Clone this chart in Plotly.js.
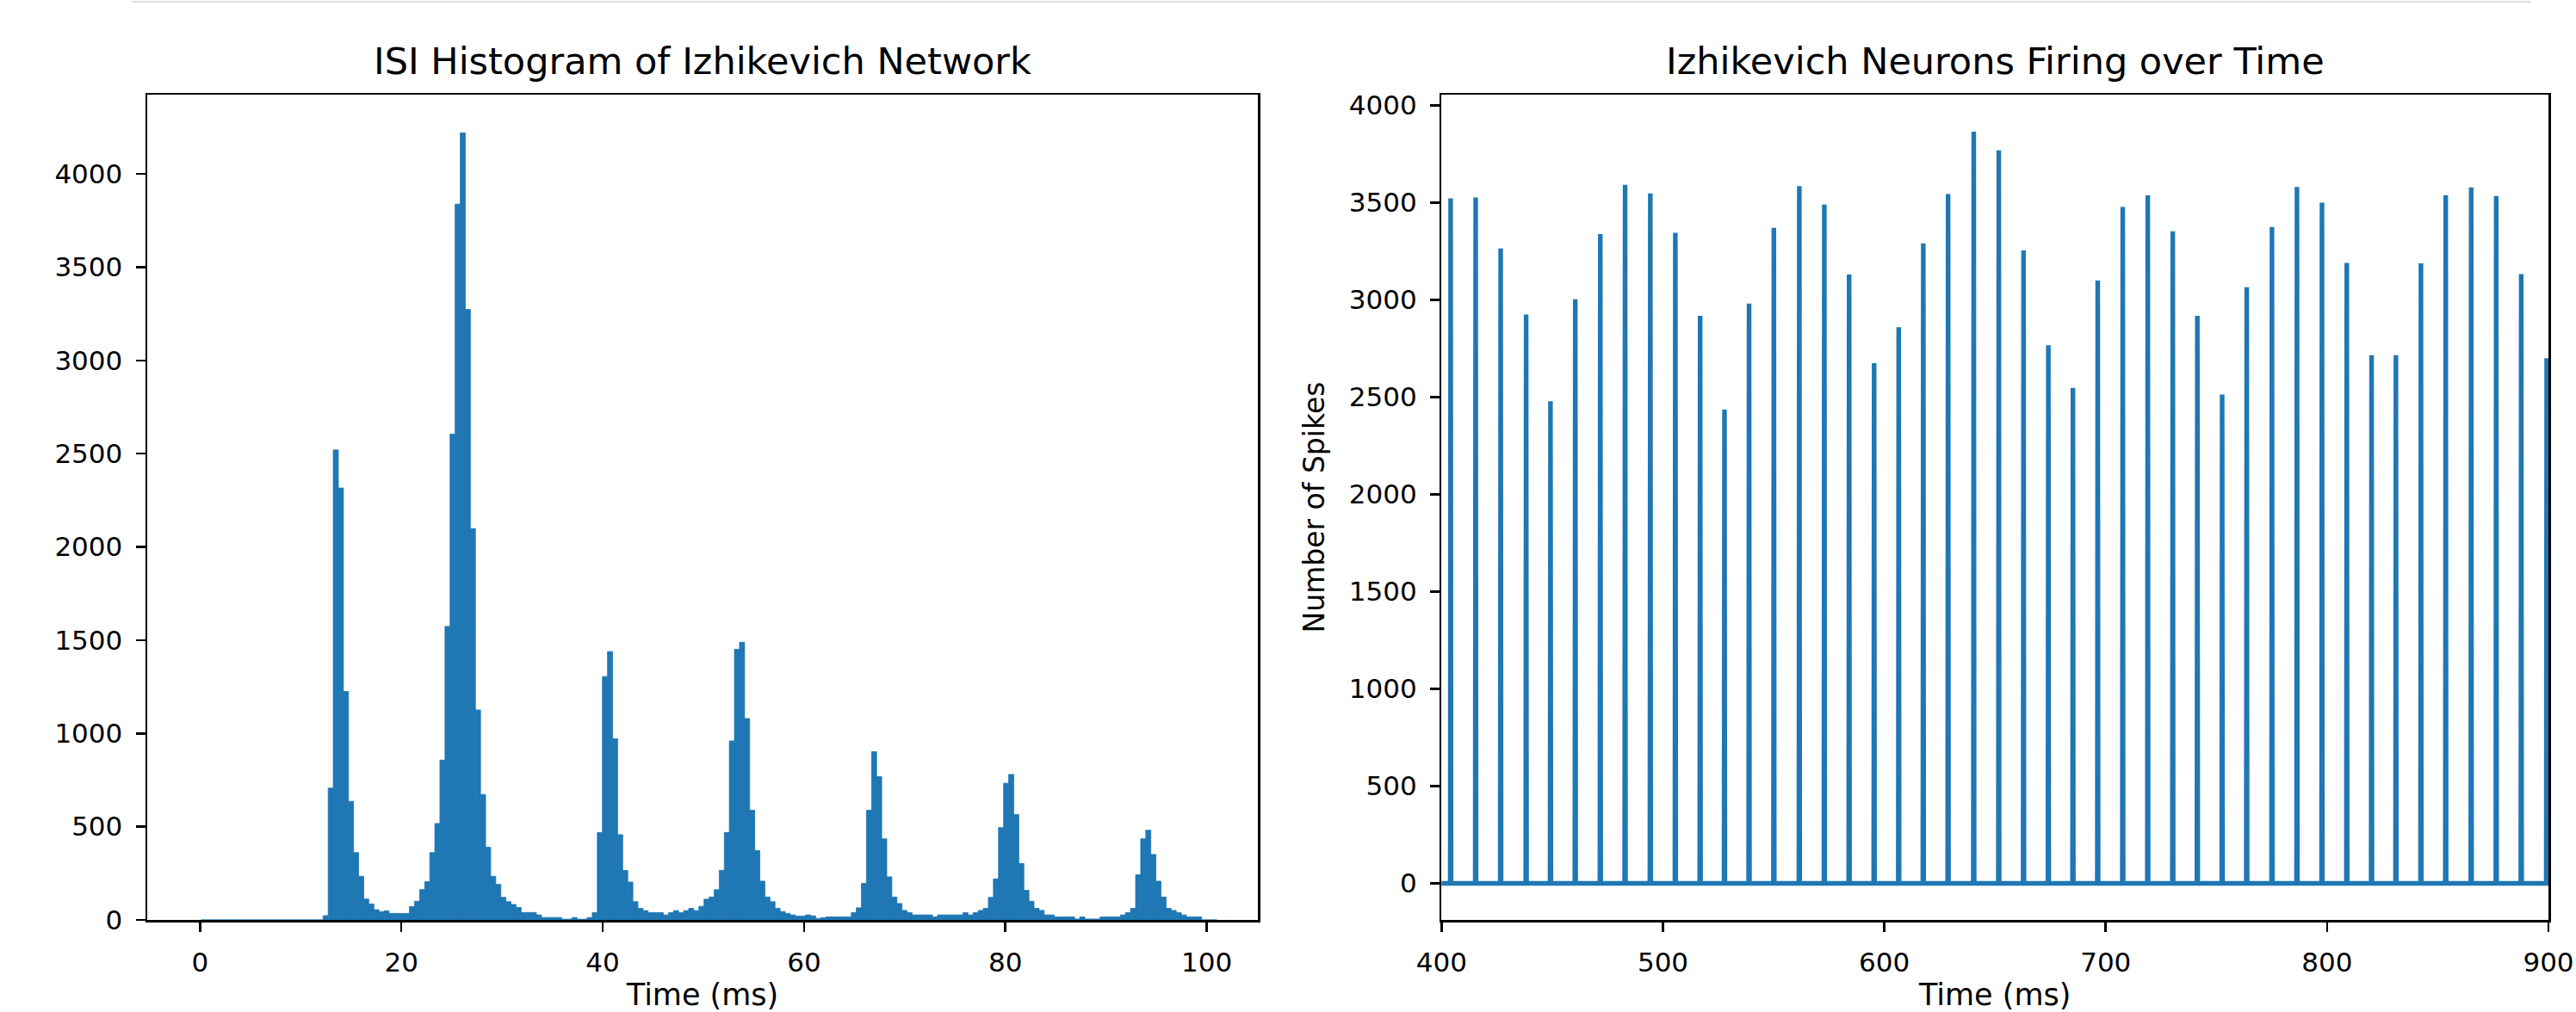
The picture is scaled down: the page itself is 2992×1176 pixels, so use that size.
<!DOCTYPE html>
<html>
<head>
<meta charset="utf-8">
<script src="https://cdn.plot.ly/plotly-3.0.1.min.js"></script>
<style>html,body{margin:0;padding:0;background:#fff;}#chart{width:2992px;height:1176px;}</style>
</head>
<body>
<div id="chart"></div>
<script>
// ---------- DATA ----------
// ISI histogram: 200 bins starting at binStart (ms), each binWidth wide
const binStart = 0.125;
const binWidth = 0.5044;
const isiCounts = [
  0,0,0,0,0,0,0,0,0,0, 0,0,0,0,0,0,0,0,0,0, 0,0,0,0,23,
  707,2520,2316,1225,636,361,234,112,86,55,
  44,49,35,35,35,35,72,100,163,205,
  361,517,857,1574,2605,3838,4220,3274,2098,1126,
  673,390,234,191,121,98,83,67,40,40,
  40,27,13,13,13,13,4,4,13,4,
  4,13,39,469,1305,1439,971,457,265,203,
  98,62,50,39,39,39,27,39,50,39,
  50,62,50,73,111,123,162,266,469,960,
  1451,1489,1080,588,372,208,123,98,62,45,
  35,27,20,20,27,22,8,12,16,16,
  16,16,16,39,65,196,588,902,768,435,
  231,123,88,51,39,27,27,27,27,16,
  27,27,27,27,27,39,27,39,51,62,
  121,220,495,733,780,565,303,159,100,62,
  51,27,27,16,16,16,16,5,16,5,
  5,5,16,16,16,16,27,39,62,242,
  435,481,351,208,123,62,51,39,27,16,
  16,16,0,0,0
];

// Population firing: spike times (ms) and number of spikes at each burst
const simStart = 0;
const simEnd = 1000;
const dt = 0.2;
const spikeTimes = [
  404.1,415.4,426.7,438.2,449.2,460.4,471.7,482.9,494.3,505.6,
  516.8,527.8,538.9,550.1,561.6,572.9,584.1,595.4,606.5,617.6,
  628.8,640.4,651.7,662.9,674.1,685.2,696.4,707.7,719.0,730.3,
  741.4,752.6,763.7,775.1,786.4,797.7,808.9,820.1,831.1,842.4,
  853.6,865.1,876.4,887.7,899.2
];
const spikeCounts = [
  3522,3526,3264,2925,2479,3003,3338,3591,3547,3345,
  2918,2436,2981,3370,3585,3490,3130,2675,2859,3291,
  3544,3865,3768,3254,2766,2547,3099,3478,3537,3353,
  2918,2513,3065,3375,3581,3500,3190,2715,2715,3188,
  3537,3578,3534,3132,2700
];

const xTicksLeft = [0,20,40,60,80,100];
const yTicks = [0,500,1000,1500,2000,2500,3000,3500,4000];
const xTicksRight = [400,500,600,700,800,900];

// ---------- BUILD ----------
const binCenters = isiCounts.map((_, i) => binStart + (i + 0.5) * binWidth);

const fx = [simStart], fy = [0];
spikeTimes.forEach((t, i) => {
  fx.push(t - dt, t, t + dt);
  fy.push(0, spikeCounts[i], 0);
});
fx.push(simEnd); fy.push(0);

const blue = '#1f77b4';
const FONT = 'DejaVu Sans, Liberation Sans, sans-serif';

const traces = [
  {
    type: 'bar', x: binCenters, y: isiCounts, width: binWidth,
    marker: {color: blue, line: {width: 0.8, color: blue}},
    xaxis: 'x', yaxis: 'y', hoverinfo: 'x+y', showlegend: false
  },
  {
    type: 'scatter', mode: 'lines', x: fx, y: fy,
    line: {color: blue, width: 5.4, simplify: false},
    xaxis: 'x2', yaxis: 'y2', showlegend: false
  }
];

const W = 2992, H = 1176;
const L = 170.7, R = 2960.5, T = 109.5, B = 1069.5;
const PW = R - L, PH = B - T;
const px = v => (v - L) / PW;
const py = v => (B - v) / PH;

const axCommon = {
  ticks: 'outside', ticklen: 11, tickwidth: 2.5, tickcolor: '#000',
  showline: true, linewidth: 2.5, linecolor: '#000', mirror: true,
  showgrid: false, zeroline: false,
  tickfont: {family: FONT, size: 31, color: '#000'},
  ticklabelstandoff: 9
};

const layout = {
  width: W, height: H,
  margin: {l: L, r: W - R, t: T, b: H - B, pad: 0},
  paper_bgcolor: '#fff', plot_bgcolor: '#fff',
  bargap: 0,
  font: {family: FONT, color: '#000'},
  xaxis: Object.assign({}, axCommon, {
    domain: [0, px(1461.2)], range: [-5.24, 105.09],
    tickmode: 'array', tickvals: xTicksLeft, ticktext: xTicksLeft.map(String),
    anchor: 'y',
    title: {text: 'Time (ms)', font: {family: FONT, size: 35, color: '#000'}, standoff: 22}
  }),
  yaxis: Object.assign({}, axCommon, {
    domain: [0, 1], range: [0, 4425],
    tickmode: 'array', tickvals: yTicks, ticktext: yTicks.map(String),
    anchor: 'x'
  }),
  xaxis2: Object.assign({}, axCommon, {
    domain: [px(1674.5), 1], range: [400, 900],
    tickmode: 'array', tickvals: xTicksRight, ticktext: xTicksRight.map(String),
    anchor: 'y2',
    title: {text: 'Time (ms)', font: {family: FONT, size: 35, color: '#000'}, standoff: 22}
  }),
  yaxis2: Object.assign({}, axCommon, {
    domain: [0, 1], range: [-188, 4055],
    tickmode: 'array', tickvals: yTicks, ticktext: yTicks.map(String),
    anchor: 'x2',
    title: {text: 'Number of Spikes', font: {family: FONT, size: 33, color: '#000'}, standoff: 18}
  }),
  annotations: [
    {text: 'ISI Histogram of Izhikevich Network', xref: 'paper', yref: 'paper',
     x: (0 + px(1461.2)) / 2, y: py(70), xanchor: 'center', yanchor: 'middle',
     showarrow: false, font: {family: FONT, size: 43, color: '#000'}},
    {text: 'Izhikevich Neurons Firing over Time', xref: 'paper', yref: 'paper',
     x: (px(1674.5) + 1) / 2, y: py(70), xanchor: 'center', yanchor: 'middle',
     showarrow: false, font: {family: FONT, size: 43, color: '#000'}}
  ],
  shapes: [
    {type: 'line', xref: 'paper', yref: 'paper', x0: px(153), x1: px(2940), y0: py(1.5), y1: py(1.5),
     line: {color: '#dfe3e1', width: 2.5}}
  ]
};

Plotly.newPlot('chart', traces, layout, {staticPlot: true, displayModeBar: false});
</script>
</body>
</html>
